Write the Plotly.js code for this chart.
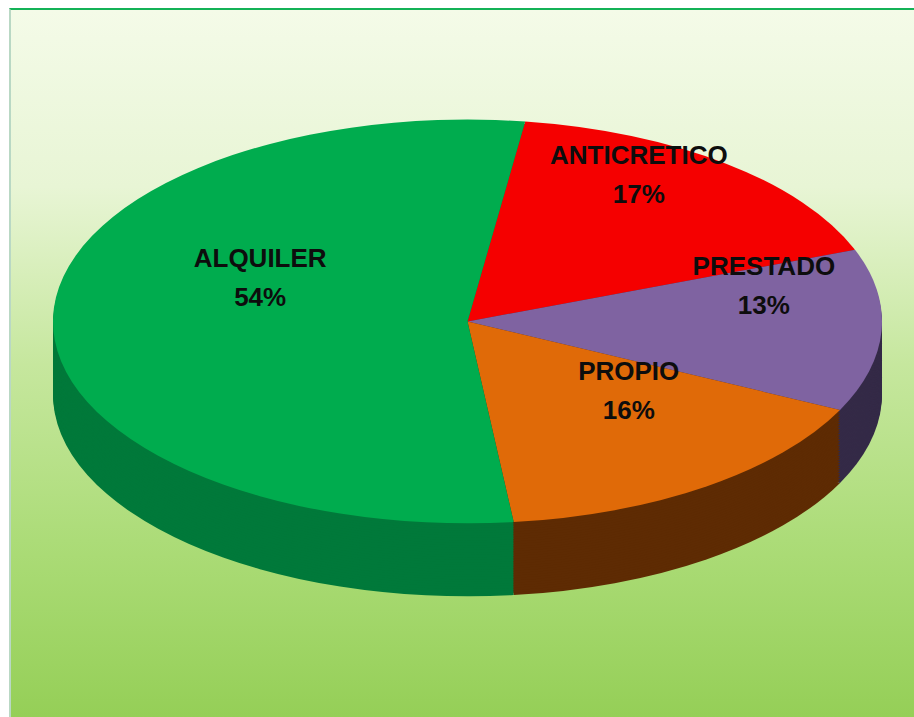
<!DOCTYPE html>
<html><head><meta charset="utf-8">
<script src="https://cdn.plot.ly/plotly-3.0.1.min.js"></script>
<style>
html,body{margin:0;padding:0;background:#fff;width:914px;height:717px;overflow:hidden}
#frame{position:absolute;left:9px;top:8px;width:905px;height:709px;box-sizing:border-box;border-top:2px solid #14b257;border-left:2px solid #b9d8c4;
background:linear-gradient(to bottom,#f4fbe8 0%,#e8f5d5 25%,#c6e79e 50%,#acdc78 75%,#95cf57 100%);}
#chart{position:absolute;left:0;top:66.4px;width:914px;height:1100px;transform:scaleY(0.487);transform-origin:0 0;}
</style></head>
<body><div id="frame"></div><div id="chart"></div>
<script>
const labels = ['ANTICRETICO', 'PRESTADO', 'PROPIO', 'ALQUILER'];
const values = [17, 13, 16, 54];
const faceColors = ['#f50000', '#7f63a1', '#e06a08', '#00ac4e'];
const sideColors = ['#8a0000', '#342a47', '#5e2b03', '#00793a'];

const W = 914, H = 1100, R = 414.5, CX = 467.5, S = 0.487, DEPTH = 73;
const depthU = DEPTH / S, topU = 110, textOff = -90;
function dom(off) {
  const t = topU + off, b = t + 2 * R;
  return {x: [(CX - R) / W, (CX + R) / W], y: [1 - b / H, 1 - t / H]};
}
const base = {type: 'pie', labels: labels, values: values, sort: false, direction: 'clockwise', rotation: 8,
  hoverinfo: 'skip', showlegend: false};
const traces = [];
const steps = 30;
for (let i = steps; i >= 1; i--) {
  traces.push(Object.assign({}, base, {domain: dom(depthU * i / steps),
    marker: {colors: sideColors, line: {width: 0}}, textinfo: 'none'}));
}
traces.push(Object.assign({}, base, {domain: dom(0), marker: {colors: faceColors, line: {width: 0}}, textinfo: 'none'}));
// label layer, centred on the perspective vertex of the top face
traces.push(Object.assign({}, base, {domain: dom(textOff),
  marker: {colors: labels.map(function () { return 'rgba(0,0,0,0)'; }), line: {width: 0}},
  texttemplate: '<b>%{label}<br>%{percent:.0%}</b>', textposition: 'inside', insidetextorientation: 'horizontal',
  textfont: {family: 'Liberation Sans, Arial, sans-serif', size: 26, color: '#0d0d0d'}}));

const layout = {width: W, height: H, autosize: false, margin: {l: 0, r: 0, t: 0, b: 0, pad: 0},
  paper_bgcolor: 'rgba(0,0,0,0)', plot_bgcolor: 'rgba(0,0,0,0)', showlegend: false};

Plotly.newPlot('chart', traces, layout, {staticPlot: true, displayModeBar: false}).then(function (gd) {
  gd.querySelectorAll('g.slicetext tspan.line').forEach(function (ts) {
    if (ts.getAttribute('dy') === '1.3em') ts.setAttribute('dy', '1.5em');
  });
  gd.querySelectorAll('g.slicetext').forEach(function (g) {
    const bb = g.getBBox();
    const cx = bb.x + bb.width / 2, cy = bb.y + bb.height / 2;
    const tr = g.getAttribute('transform') || '';
    g.setAttribute('transform', tr + ' translate(' + cx + ',' + cy + ') scale(1,' + (1 / S) + ') translate(' + (-cx) + ',' + (-cy) + ')');
  });
});
</script>
</body></html>
